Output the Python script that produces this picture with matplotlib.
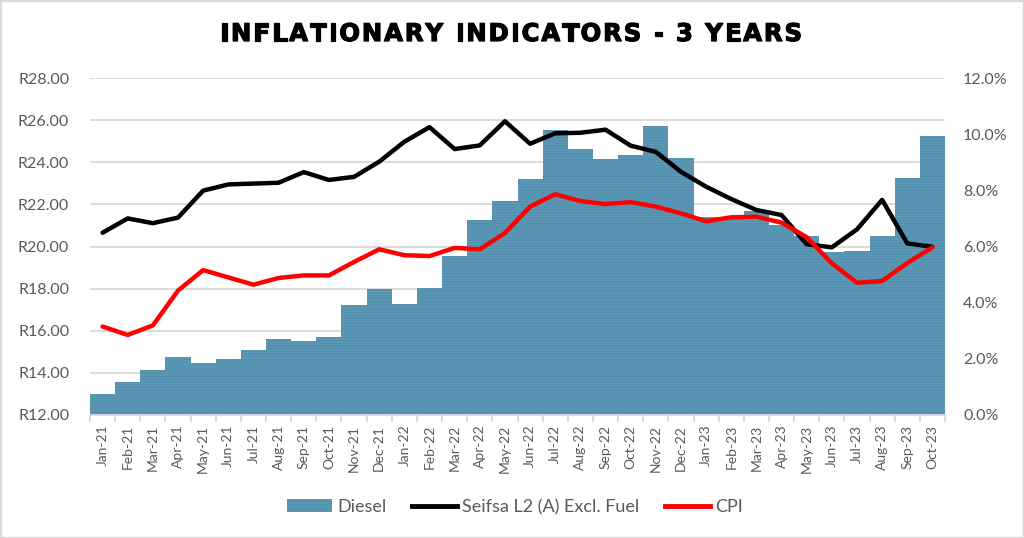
import matplotlib
matplotlib.use("Agg")
import matplotlib.pyplot as plt
from matplotlib.ticker import FuncFormatter, MultipleLocator, FixedLocator
from matplotlib.patches import Rectangle, Patch
from matplotlib.lines import Line2D
from matplotlib.font_manager import FontProperties, findfont, get_font
import matplotlib.patheffects as pe
import numpy as np

months = ["Jan-21", "Feb-21", "Mar-21", "Apr-21", "May-21", "Jun-21", "Jul-21", "Aug-21",
          "Sep-21", "Oct-21", "Nov-21", "Dec-21", "Jan-22", "Feb-22", "Mar-22", "Apr-22",
          "May-22", "Jun-22", "Jul-22", "Aug-22", "Sep-22", "Oct-22", "Nov-22", "Dec-22",
          "Jan-23", "Feb-23", "Mar-23", "Apr-23", "May-23", "Jun-23", "Jul-23", "Aug-23",
          "Sep-23", "Oct-23"]

diesel = [12.98, 13.57, 14.14, 14.77, 14.47, 14.67, 15.09, 15.62, 15.50, 15.72,
          17.21, 17.97, 17.27, 18.05, 19.55, 21.24, 22.15, 23.22, 25.53, 24.62,
          24.17, 24.33, 25.74, 24.22, 21.42, 21.38, 21.70, 21.01, 20.49, 19.73,
          19.80, 20.50, 23.27, 25.23]

seifsa = [6.49, 7.00, 6.83, 7.03, 7.99, 8.21, 8.24, 8.27, 8.65, 8.37,
          8.48, 9.02, 9.73, 10.25, 9.47, 9.60, 10.46, 9.66, 10.03, 10.05,
          10.16, 9.59, 9.37, 8.66, 8.13, 7.69, 7.30, 7.12, 6.08, 5.97,
          6.61, 7.66, 6.11, 5.99]

cpi = [3.15, 2.85, 3.19, 4.43, 5.16, 4.90, 4.64, 4.88, 4.97, 4.97,
       5.45, 5.90, 5.69, 5.66, 5.95, 5.90, 6.48, 7.42, 7.86, 7.62,
       7.51, 7.58, 7.42, 7.18, 6.90, 7.04, 7.06, 6.85, 6.33, 5.40,
       4.71, 4.77, 5.41, 5.97]

title = "INFLATIONARY INDICATORS - 3 YEARS"
series_names = ["Diesel", "Seifsa L2 (A) Excl. Fuel", "CPI"]

BAR = "#5C98B6"
HATCH = "#4E8BAA"
GRID = "#d9d9d9"
TXT = "#595959"
FONT = ["Lato", "DejaVu Sans"]

plt.rcParams["font.family"] = FONT
plt.rcParams["hatch.linewidth"] = 0.5

W, H, DPI = 1024, 538, 100
fig = plt.figure(figsize=(W / DPI, H / DPI), dpi=DPI)
ax = fig.add_axes([90/W, 1-415/H, 855/W, 337/H])
ax2 = ax.twinx()

x = np.arange(len(months))
ax.bar(x, diesel, width=1.0, color=BAR, edgecolor=HATCH, linewidth=0,
       hatch="------", zorder=2)

ax.set_ylim(12, 28)
ax.set_xlim(-0.5, len(months) - 0.5)
ax.yaxis.set_major_locator(MultipleLocator(2))
ax.yaxis.set_major_formatter(FuncFormatter(lambda v, p: f"R{v:.2f}"))
ax.grid(axis="y", color=GRID, linewidth=1.3, zorder=0)
ax.set_axisbelow(True)

ax2.plot(x, seifsa, color="black", linewidth=3.2, solid_joinstyle="round",
         solid_capstyle="round", zorder=3)
ax2.plot(x, cpi, color="#ff0000", linewidth=3.2, solid_joinstyle="round",
         solid_capstyle="round", zorder=4)
ax2.set_ylim(0, 12)
ax2.yaxis.set_major_locator(MultipleLocator(2))
ax2.yaxis.set_major_formatter(FuncFormatter(lambda v, p: f"{v:.1f}%"))

for a in (ax, ax2):
    for s in a.spines.values():
        s.set_visible(False)
    a.tick_params(axis="y", length=0, labelsize=11.5, labelcolor=TXT)
ax.tick_params(axis="y", pad=15)
ax2.tick_params(axis="y", pad=13)

ax.spines["bottom"].set_visible(True)
ax.spines["bottom"].set_color(GRID)
ax.spines["bottom"].set_linewidth(1.3)
ax.set_xticks(x)
ax.set_xticklabels(months, rotation=90, fontsize=10, color=TXT)
ax.tick_params(axis="x", length=0, pad=7)
ax.xaxis.set_minor_locator(FixedLocator(np.arange(-0.5, len(months), 1.0)))
ax.tick_params(axis="x", which="minor", length=5, color=GRID, width=1.3)

# Title with letter tracking (placed character by character)
TSIZE = 17.5
fp = FontProperties(family="DejaVu Sans", weight="bold", size=TSIZE)
ft = get_font(findfont(fp))
ft.set_size(TSIZE, DPI)
advs = []
for c in title:
    g = ft.load_char(ord(c))
    advs.append(g.linearHoriAdvance / 65536.0)
target_w = 582.0
track = (target_w - sum(advs)) / (len(title) - 1)
xpos = 511.0 - target_w / 2.0
for c, adv in zip(title, advs):
    if c != " ":
        fig.text(xpos / W, 1 - 34 / H, c, ha="left", va="center",
                 fontproperties=fp, color="black",
                 path_effects=[pe.withStroke(linewidth=0.9, foreground="black")])
    xpos += adv + track

handles = [Patch(facecolor=BAR, edgecolor=HATCH, linewidth=0, hatch="------"),
           Line2D([], [], color="black", linewidth=3.5),
           Line2D([], [], color="#ff0000", linewidth=3.5)]
fig.legend(handles, series_names, loc="center", bbox_to_anchor=(0.503, 1-507/H),
           ncol=3, frameon=False, fontsize=13, labelcolor=TXT,
           handlelength=2.5, handletextpad=0.3, columnspacing=1.4)

fig.patches.append(Rectangle((0, 0), 1, 1, transform=fig.transFigure, fill=False,
                             edgecolor="#d9d9d9", linewidth=2.5, zorder=10))

fig.savefig("out.png", dpi=DPI, facecolor="white")
